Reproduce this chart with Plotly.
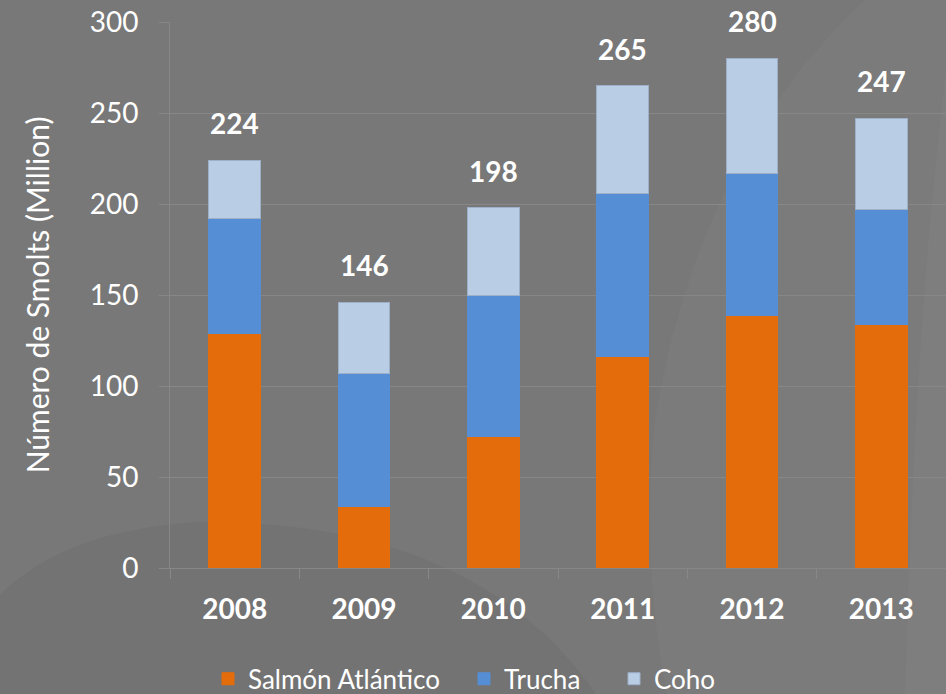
import plotly.graph_objects as go

# Smolt production by species (millions)
years = ["2008", "2009", "2010", "2011", "2012", "2013"]
salmon_atlantico = [129, 34, 72, 116, 139, 134]
trucha = [63, 73, 78, 90, 78, 63]
coho = [32, 39, 48, 59, 63, 50]
series_names = ["Salmón Atlántico", "Trucha", "Coho"]
y_ticks = [0, 50, 100, 150, 200, 250, 300]

totals = [a + b + c for a, b, c in zip(salmon_atlantico, trucha, coho)]

W, H = 946, 694
M_L, M_R, M_T, M_B = 170, 0, 22, 126
PLOT_W = W - M_L - M_R
PLOT_H = H - M_T - M_B

BG = "#787878"
GRID = "#878787"
FONT = "Lato"
colors = ["#E46C0A", "#558ED5", "#B9CDE5"]


def px_to_paper_x(px):
    return (px - M_L) / PLOT_W


def px_to_paper_y(py):
    return (H - M_B - py) / PLOT_H


def paper_path(points, closed=True):
    """SVG path in paper coordinates from a list of (px, py) pixel points,
    using 'Q' segments where four-value groups are given."""
    cmds = []
    for i, seg in enumerate(points):
        if i == 0:
            x, y = seg
            cmds.append(f"M{px_to_paper_x(x):.4f},{px_to_paper_y(y):.4f}")
        elif len(seg) == 4:
            cx, cy, x, y = seg
            cmds.append(f"Q{px_to_paper_x(cx):.4f},{px_to_paper_y(cy):.4f} "
                        f"{px_to_paper_x(x):.4f},{px_to_paper_y(y):.4f}")
        else:
            x, y = seg
            cmds.append(f"L{px_to_paper_x(x):.4f},{px_to_paper_y(y):.4f}")
    if closed:
        cmds.append("Z")
    return " ".join(cmds)


fig = go.Figure()
legend_ids = ["legend", "legend2", "legend3"]
for name, vals, col, lg in zip(series_names, [salmon_atlantico, trucha, coho], colors, legend_ids):
    fig.add_trace(go.Bar(
        x=years, y=vals, name=name, legend=lg,
        marker=dict(color=col,
                    line=dict(color="#9DB0C8" if col == "#B9CDE5" else col, width=1)),
        hoverinfo="skip",
    ))

# totals above each stack (category index positions)
for i, tot in enumerate(totals):
    fig.add_annotation(
        x=i, y=tot, text=f"<b>{tot}</b>", showarrow=False,
        yanchor="bottom", yshift=18,
        font=dict(family=FONT, size=28, color="white"),
    )

# soft decorative swooshes in the background
bg_shapes = [
    # darker sweep along the lower left
    dict(path=paper_path([(-5, 600), (-5, 700), (600, 700),
                          (480, 520, 200, 522), (60, 530, -5, 600)]),
         fillcolor="#737373"),
    # lighter sweep on the right side
    dict(path=paper_path([(870, -5), (700, 150, 655, 420), (640, 560, 668, 700),
                          (950, 700), (950, -5)]),
         fillcolor="#7b7b7b"),
    dict(path=paper_path([(950, 40), (915, 300, 905, 700), (950, 700)]),
         fillcolor="#7e7e7e"),
]
for s in bg_shapes:
    fig.add_shape(type="path", xref="paper", yref="paper", layer="below",
                  line=dict(width=0), **s)

legend_common = dict(
    orientation="h", yanchor="middle", xanchor="left",
    bgcolor="rgba(0,0,0,0)", borderwidth=0,
    font=dict(family=FONT, size=26, color="white"),
)
layout_legends = {}
for lg, px in zip(legend_ids, [208, 464, 614]):
    layout_legends[lg] = dict(legend_common, x=px_to_paper_x(px), y=-0.203)

fig.update_layout(
    width=W, height=H,
    margin=dict(l=M_L, r=M_R, t=M_T, b=M_B, autoexpand=False),
    paper_bgcolor=BG, plot_bgcolor="rgba(0,0,0,0)",
    barmode="stack", bargap=0.6,
    showlegend=True,
    font=dict(family=FONT, color="white"),
    **layout_legends,
)

fig.update_xaxes(
    type="category", categoryorder="array", categoryarray=years,
    range=[-0.5, len(years) - 0.5],
    tickson="boundaries",
    ticks="outside", ticklen=10, tickcolor=GRID, tickwidth=1,
    showline=True, linecolor=GRID, linewidth=1,
    showgrid=False, tickangle=0,
    tickfont=dict(family=FONT, size=28, color="white", weight="bold"),
    ticklabelstandoff=16,
    automargin=False,
)
fig.update_yaxes(
    range=[0, 300], tickvals=y_ticks,
    ticks="outside", ticklen=10, tickcolor=GRID, tickwidth=1,
    showline=True, linecolor=GRID, linewidth=1,
    showgrid=True, gridcolor=GRID, gridwidth=1, zeroline=False,
    tickfont=dict(family=FONT, size=28, color="white"),
    ticklabelstandoff=15,
    title=dict(text="Número de Smolts (Million)",
               font=dict(family=FONT, size=30, color="white"), standoff=31),
    automargin=False,
)

fig.write_html("out.html")
